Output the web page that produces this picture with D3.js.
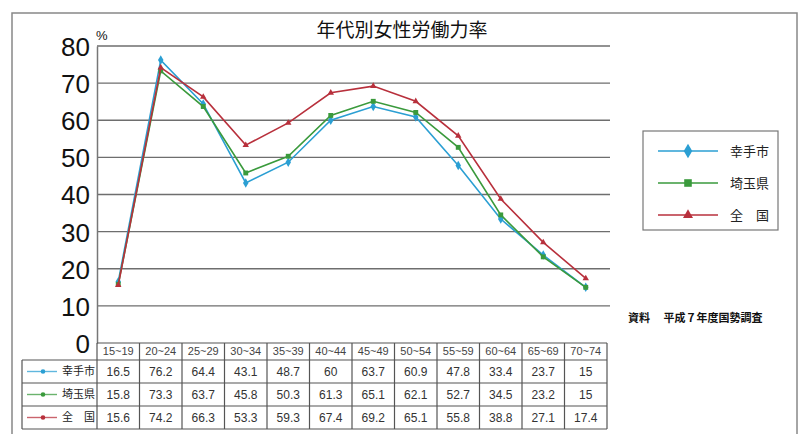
<!DOCTYPE html>
<html>
<head>
<meta charset="utf-8">
<script src="https://cdn.jsdelivr.net/npm/d3@7/dist/d3.min.js"></script>
<style>
  html, body { margin: 0; padding: 0; background: #fff; }
  svg { display: block; }
</style>
</head>
<body>
<svg id="chart" width="804" height="434"></svg>
<script>
// Age groups along the x axis
const ageGroups = ["15~19","20~24","25~29","30~34","35~39","40~44","45~49","50~54","55~59","60~64","65~69","70~74"];
// Labour force participation rate of women (%)
const satteCity = [16.5, 76.2, 64.4, 43.1, 48.7, 60, 63.7, 60.9, 47.8, 33.4, 23.7, 15];
const saitamaPref = [15.8, 73.3, 63.7, 45.8, 50.3, 61.3, 65.1, 62.1, 52.7, 34.5, 23.2, 15];
const nationwide = [15.6, 74.2, 66.3, 53.3, 59.3, 67.4, 69.2, 65.1, 55.8, 38.8, 27.1, 17.4];
const seriesNames = ["幸手市", "埼玉県", "全　国"];
const yTicks = [0, 10, 20, 30, 40, 50, 60, 70, 80];

const series = [
  { name: seriesNames[0], values: satteCity, color: "#2b9fd3", symbol: d3.symbolDiamond, size: 26 },
  { name: seriesNames[1], values: saitamaPref, color: "#3a9a3c", symbol: d3.symbolSquare, size: 24 },
  { name: seriesNames[2], values: nationwide, color: "#b8303c", symbol: d3.symbolTriangle, size: 18 }
];

const svg = d3.select("#chart");
const font = "'Liberation Sans', Arial, sans-serif";
const cjk = "'Noto Sans CJK JP', 'Noto Sans', sans-serif";

const x = d3.scaleBand().domain(ageGroups).range([97, 607]).padding(0);
const y = d3.scaleLinear().domain([0, 80]).range([343, 46]);

// outer frame
svg.append("rect")
  .attr("x", 12).attr("y", 13).attr("width", 785).attr("height", 430)
  .attr("fill", "none").attr("stroke", "#888").attr("stroke-width", 1.5);

// title
svg.append("text")
  .attr("x", 402).attr("y", 37)
  .attr("text-anchor", "middle")
  .attr("font-family", cjk).attr("font-size", 19).attr("fill", "#111")
  .text("年代別女性労働力率");

// horizontal grid lines
svg.append("g").selectAll("line")
  .data(yTicks.filter(t => t > 0))
  .join("line")
  .attr("x1", 97).attr("x2", 610)
  .attr("y1", d => y(d)).attr("y2", d => y(d))
  .attr("stroke", "#6e6e6e").attr("stroke-width", 1.3);

// y axis labels
const yAxis = d3.axisLeft(y).tickValues(yTicks).tickSize(0).tickPadding(7);
const yg = svg.append("g").attr("transform", "translate(97,0)").call(yAxis);
yg.select(".domain").attr("stroke", "#777").attr("stroke-width", 1.5);
yg.selectAll("text")
  .attr("font-family", font).attr("font-size", 26).attr("fill", "#111")
  .attr("dy", "0.36em");

svg.append("text")
  .attr("x", 96).attr("y", 40)
  .attr("font-family", font).attr("font-size", 13).attr("fill", "#111")
  .text("%");

// lines and markers
series.forEach(s => {
  const line = d3.line()
    .x((d, i) => x(ageGroups[i]) + x.bandwidth() / 2)
    .y(d => y(d));
  svg.append("path")
    .datum(s.values)
    .attr("d", line)
    .attr("fill", "none")
    .attr("stroke", s.color)
    .attr("stroke-width", 1.6);
  svg.append("g").selectAll("path")
    .data(s.values)
    .join("path")
    .attr("transform", (d, i) => `translate(${x(ageGroups[i]) + x.bandwidth() / 2},${y(d)})`)
    .attr("d", d3.symbol().type(s.symbol).size(s.size))
    .attr("fill", s.color);
});

// legend
const lg = svg.append("g");
lg.append("rect")
  .attr("x", 643).attr("y", 131).attr("width", 135).attr("height", 99)
  .attr("fill", "#fff").attr("stroke", "#777").attr("stroke-width", 1.2);
series.forEach((s, i) => {
  const cy = 151 + i * 32;
  lg.append("line")
    .attr("x1", 658).attr("x2", 718).attr("y1", cy).attr("y2", cy)
    .attr("stroke", s.color).attr("stroke-width", 1.6);
  lg.append("path")
    .attr("transform", `translate(688,${cy})`)
    .attr("d", d3.symbol().type(s.symbol).size(s.size * 2.4))
    .attr("fill", s.color);
  lg.append("text")
    .attr("x", 730).attr("y", cy).attr("dy", "0.35em")
    .attr("font-family", cjk).attr("font-size", 13).attr("fill", "#222")
    .text(s.name);
});

// source note
svg.append("text")
  .attr("x", 628).attr("y", 322)
  .attr("font-family", cjk).attr("font-size", 11).attr("font-weight", "bold").attr("fill", "#111")
  .text("資料　 平成７年度国勢調査");

// data table
const table = svg.append("g");
const headTop = 343, headH = 17, rowH = 23;
const tableLeft = 22, tableRight = 607;
const stroke = "#555";

// header row
table.append("line").attr("x1", 97).attr("x2", tableRight).attr("y1", headTop).attr("y2", headTop)
  .attr("stroke", stroke).attr("stroke-width", 1.2);
ageGroups.forEach(g => {
  table.append("text")
    .attr("x", x(g) + x.bandwidth() / 2).attr("y", headTop + headH / 2).attr("dy", "0.36em")
    .attr("text-anchor", "middle")
    .attr("font-family", font).attr("font-size", 11).attr("fill", "#444")
    .text(g);
});
// horizontal table rules
for (let r = 0; r <= 3; r++) {
  const yy = headTop + headH + r * rowH;
  table.append("line").attr("x1", tableLeft).attr("x2", tableRight).attr("y1", yy).attr("y2", yy)
    .attr("stroke", stroke).attr("stroke-width", 1.2);
}
// vertical rules
table.append("line").attr("x1", tableLeft).attr("x2", tableLeft)
  .attr("y1", headTop + headH).attr("y2", headTop + headH + 3 * rowH)
  .attr("stroke", stroke).attr("stroke-width", 1.2);
ageGroups.concat([null]).forEach((g, i) => {
  const xx = g === null ? tableRight : x(g);
  table.append("line").attr("x1", xx).attr("x2", xx)
    .attr("y1", headTop).attr("y2", headTop + headH + 3 * rowH)
    .attr("stroke", stroke).attr("stroke-width", 1.2);
});
// rows
series.forEach((s, r) => {
  const cy = headTop + headH + r * rowH + rowH / 2;
  table.append("line").attr("x1", 27).attr("x2", 57).attr("y1", cy).attr("y2", cy)
    .attr("stroke", s.color).attr("stroke-width", 1.4).attr("stroke-opacity", 0.75);
  table.append("circle").attr("cx", 43).attr("cy", cy).attr("r", 2.3).attr("fill", s.color);
  table.append("text")
    .attr("x", 62).attr("y", cy).attr("dy", "0.36em")
    .attr("font-family", cjk).attr("font-size", 11).attr("fill", "#222")
    .text(s.name);
  s.values.forEach((v, i) => {
    table.append("text")
      .attr("x", x(ageGroups[i]) + x.bandwidth() / 2).attr("y", cy).attr("dy", "0.36em")
      .attr("text-anchor", "middle")
      .attr("font-family", font).attr("font-size", 12).attr("fill", "#333")
      .text(v);
  });
});
</script>
</body>
</html>
